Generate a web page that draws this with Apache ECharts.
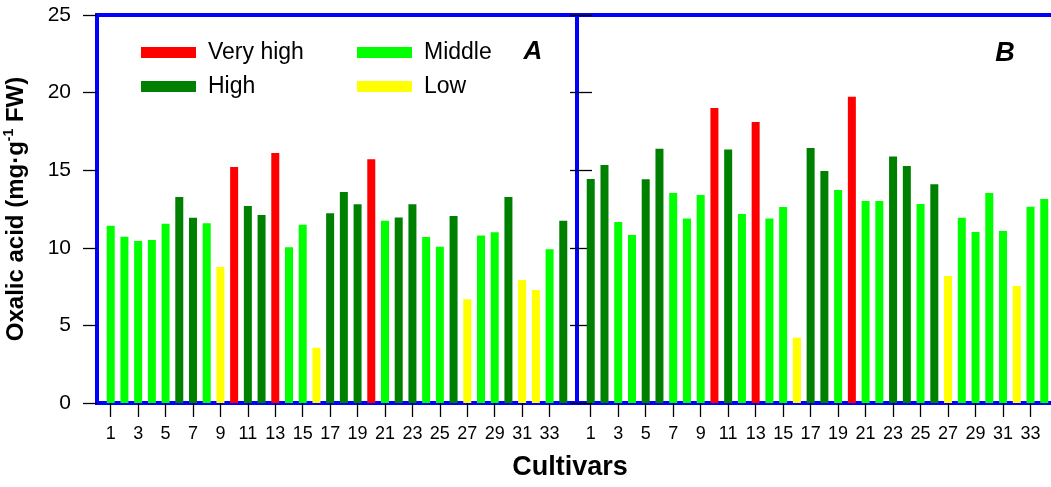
<!DOCTYPE html>
<html>
<head>
<meta charset="utf-8">
<script src="https://cdn.jsdelivr.net/npm/echarts@6/dist/echarts.min.js"></script>
<style>
  html, body { margin: 0; padding: 0; background: #ffffff; }
  #chart { width: 1051px; height: 487px; }
</style>
</head>
<body>
<div id="chart"></div>
<script>
// Cultivar numbers (same 34 cultivars in both panels)
const cultivars = [1,2,3,4,5,6,7,8,9,10,11,12,13,14,15,16,17,18,19,20,21,22,23,24,25,26,27,28,29,30,31,32,33,34];

// Oxalic acid content class names and colours
const levels = ['Very high', 'High', 'Middle', 'Low'];
const levelColors = ['#FF0000', '#008000', '#00FF00', '#FFFF00'];

// Panel A: oxalic acid (mg/g FW) and class of each cultivar
const oxalicA = [11.42, 10.72, 10.44, 10.50, 11.55, 13.27, 11.94, 11.58, 8.76, 15.21,
                 12.69, 12.11, 16.11, 10.03, 11.49, 3.56, 12.22, 13.60, 12.80, 15.70,
                 11.75, 11.96, 12.80, 10.70, 10.07, 12.05, 6.68, 10.80, 11.00, 13.27,
                 7.93, 7.28, 9.90, 11.75];
const classA = ['Middle','Middle','Middle','Middle','Middle','High','High','Middle','Low','Very high',
                'High','High','Very high','Middle','Middle','Low','High','High','High','Very high',
                'Middle','High','High','Middle','Middle','High','Low','Middle','Middle','High',
                'Low','Low','Middle','High'];

// Panel B: oxalic acid (mg/g FW) and class of each cultivar
const oxalicB = [14.43, 15.33, 11.66, 10.82, 14.41, 16.39, 13.53, 11.88, 13.40, 19.01,
                 16.34, 12.18, 18.11, 11.88, 12.63, 4.21, 16.43, 14.95, 13.72, 19.74,
                 13.01, 13.01, 15.89, 15.27, 12.82, 14.09, 8.18, 11.94, 11.02, 13.53,
                 11.08, 7.54, 12.65, 13.14];
const classB = ['High','High','Middle','Middle','High','High','Middle','Middle','Middle','Very high',
                'High','Middle','Very high','Middle','Middle','Low','High','High','Middle','Very high',
                'Middle','Middle','High','High','Middle','High','Low','Middle','Middle','Middle',
                'Middle','Low','Middle','Middle'];

// Labelled x ticks and y-axis ticks
const xTickValues = [1,3,5,7,9,11,13,15,17,19,21,23,25,27,29,31,33];
const yMin = 0, yMax = 25, yStep = 5;

const FONT = 'Arial, "Liberation Sans", Helvetica, sans-serif';

function panelSeries(values, classes, xAxisIndex, yAxisIndex) {
  return levels.map((lvl, k) => ({
    type: 'bar',
    name: lvl,
    xAxisIndex: xAxisIndex,
    yAxisIndex: yAxisIndex,
    barWidth: 8,
    barGap: '-100%',
    itemStyle: { color: levelColors[k] },
    data: cultivars
      .map((c, i) => classes[i] === lvl ? [c, values[i]] : null)
      .filter(d => d !== null)
  }));
}

function xAxisFor(gridIndex) {
  return {
    type: 'value',
    gridIndex: gridIndex,
    min: 0,
    max: 35,
    axisLine: { show: false },
    splitLine: { show: false },
    axisTick: { show: true, customValues: xTickValues, length: 14,
                lineStyle: { color: '#000', width: 1.3 } },
    axisLabel: { show: true, customValues: xTickValues, margin: 22,
                 color: '#000', fontSize: 18, fontFamily: FONT }
  };
}

const chart = echarts.init(document.getElementById('chart'), null, { renderer: 'canvas' });

const option = {
  animation: false,
  backgroundColor: '#ffffff',
  grid: [
    { left: 97, top: 15, width: 480, height: 388, show: true, outerBoundsMode: 'none',
      containLabel: false, borderColor: '#0000FF', borderWidth: 4, backgroundColor: 'transparent' },
    { left: 577, top: 15, width: 481, height: 388, show: true, outerBoundsMode: 'none',
      containLabel: false, borderColor: '#0000FF', borderWidth: 4, backgroundColor: 'transparent' }
  ],
  legend: [
    { orient: 'vertical', left: 141, top: 41, padding: 0, itemWidth: 55, itemHeight: 11, itemGap: 11,
      icon: 'rect', data: ['Very high', 'High'], selectedMode: false,
      textStyle: { fontSize: 23, color: '#000', fontFamily: FONT, padding: [0, 0, 0, 7] } },
    { orient: 'vertical', left: 357, top: 41, padding: 0, itemWidth: 55, itemHeight: 11, itemGap: 11,
      icon: 'rect', data: ['Middle', 'Low'], selectedMode: false,
      textStyle: { fontSize: 23, color: '#000', fontFamily: FONT, padding: [0, 0, 0, 7] } }
  ],
  xAxis: [xAxisFor(0), xAxisFor(1)],
  yAxis: [
    { type: 'value', gridIndex: 0, min: yMin, max: yMax, interval: yStep,
      axisLine: { show: false }, splitLine: { show: false },
      axisTick: { show: true, length: 14, lineStyle: { color: '#000', width: 1.3 } },
      axisLabel: { margin: 26, color: '#000', fontSize: 21, fontFamily: FONT },
      name: '{t|Oxalic acid (mg·g}{s|-1}{t| FW)}',
      nameLocation: 'middle', nameRotate: 90, nameGap: 67,
      nameTextStyle: {
        rich: {
          t: { fontSize: 24, fontWeight: 'bold', color: '#000', fontFamily: FONT, lineHeight: 28 },
          s: { fontSize: 14, fontWeight: 'bold', color: '#000', fontFamily: FONT,
               verticalAlign: 'top', lineHeight: 28, padding: [0, 0, 8, 0] }
        }
      } },
    { type: 'value', gridIndex: 0, position: 'right', min: yMin, max: yMax, interval: yStep,
      axisLine: { show: false }, splitLine: { show: false },
      axisTick: { show: true, inside: true, length: 7, lineStyle: { color: '#000', width: 1.3 } },
      axisLabel: { show: false } },
    { type: 'value', gridIndex: 1, position: 'left', min: yMin, max: yMax, interval: yStep,
      axisLine: { show: false }, splitLine: { show: false },
      axisTick: { show: true, inside: true, length: 15, lineStyle: { color: '#000', width: 1.3 } },
      axisLabel: { show: false } }
  ],
  graphic: [
    { type: 'text', x: 570, y: 468,
      style: { text: 'Cultivars', align: 'center', verticalAlign: 'middle',
               font: 'bold 27px ' + FONT, fill: '#000' } },
    { type: 'text', x: 533, y: 52,
      style: { text: 'A', align: 'center', verticalAlign: 'middle',
               font: 'italic bold 26px ' + FONT, fill: '#000' } },
    { type: 'text', x: 1005, y: 54,
      style: { text: 'B', align: 'center', verticalAlign: 'middle',
               font: 'italic bold 27px ' + FONT, fill: '#000' } }
  ],
  series: [
    ...panelSeries(oxalicA, classA, 0, 0),
    ...panelSeries(oxalicB, classB, 1, 2)
  ]
};

chart.setOption(option);
</script>
</body>
</html>
